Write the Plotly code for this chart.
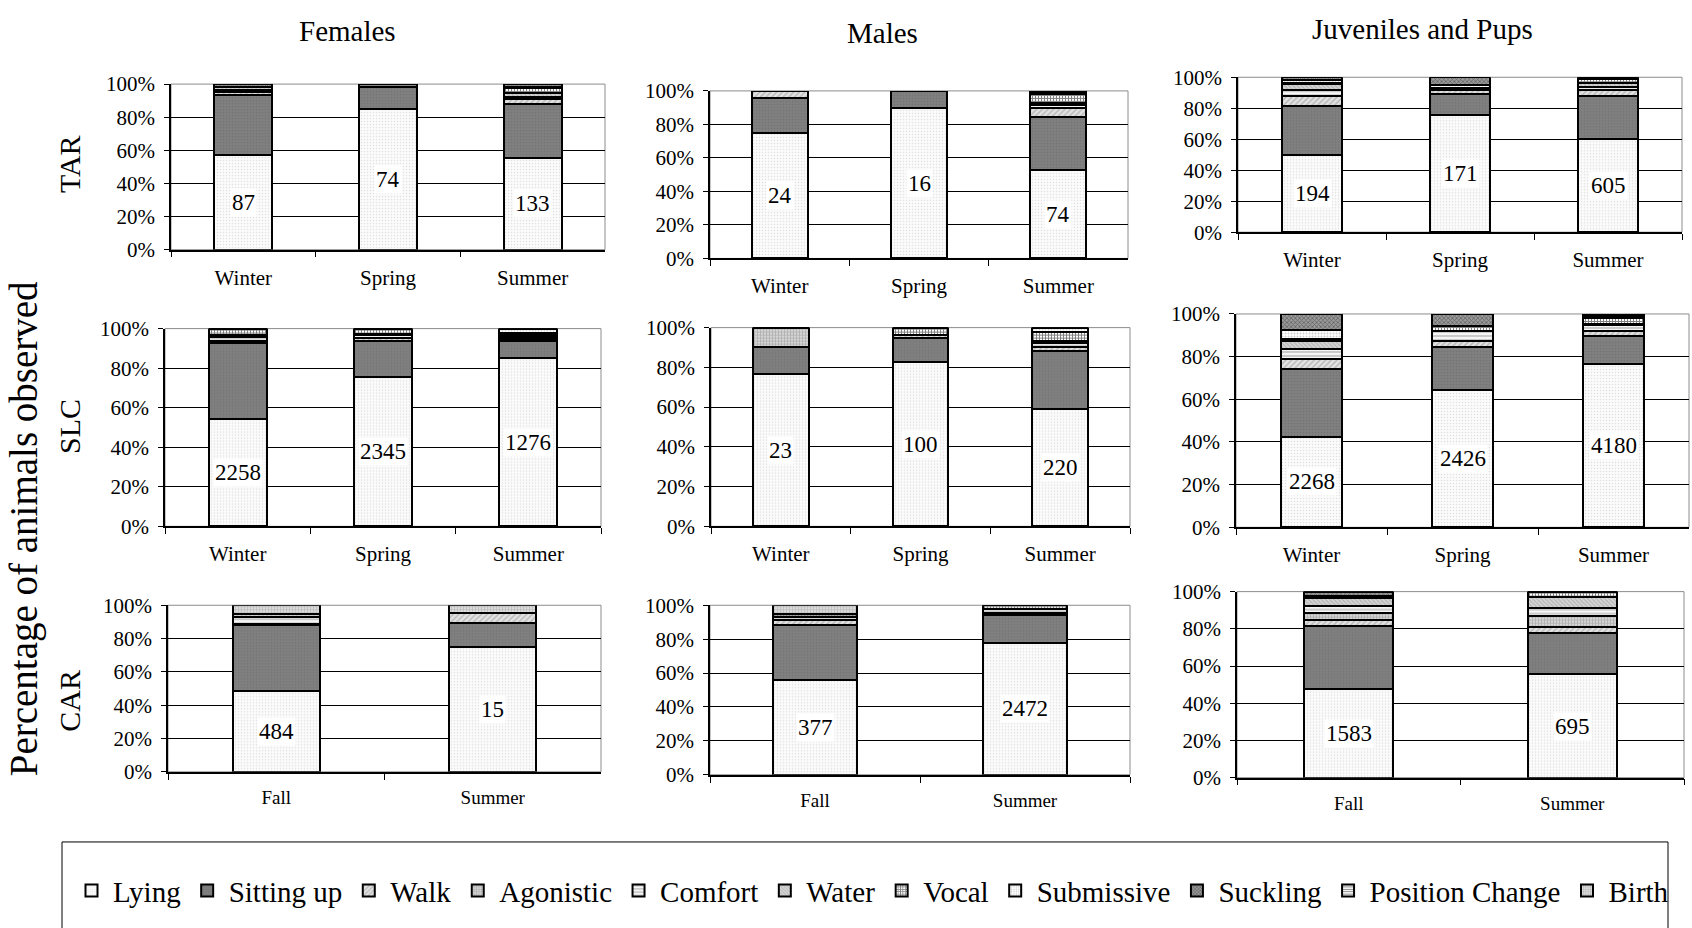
import plotly.graph_objects as go

# ---------------------------------------------------------------- data
behaviours = ["Lying", "Sitting up", "Walk", "Agonistic", "Comfort", "Water",
              "Vocal", "Submissive", "Suckling", "Position Change", "Birth"]

seasons_3 = ["Winter", "Spring", "Summer"]
seasons_2 = ["Fall", "Summer"]

groups = ["Females", "Males", "Juveniles and Pups"]
sites = ["TAR", "SLC", "CAR"]

# percent of animals per behaviour; one row per season, behaviours in the order above
tar_females = [[57, 36.5, 1.5, 0, 1.5, 1.5, 0, 0, 2, 0, 0],
               [85, 13.5, 0, 0, 0, 0, 1.5, 0, 0, 0, 0],
               [55.5, 32.5, 3, 0, 1.5, 2, 3, 1, 1.5, 0, 0]]
tar_males = [[75, 21, 4, 0, 0, 0, 0, 0, 0, 0, 0],
             [89.5, 10.5, 0, 0, 0, 0, 0, 0, 0, 0, 0],
             [52.5, 32, 5.5, 0, 1.5, 1.5, 5, 1, 0, 0, 1]]
tar_juveniles = [[50, 31.5, 6.5, 0, 4, 3.5, 1, 1.5, 2, 0, 0],
                 [75.5, 14, 2.5, 0, 1, 0, 0, 2, 5, 0, 0],
                 [60, 28, 3.5, 0, 2, 3, 2.5, 0, 1, 0, 0]]

slc_females = [[54.5, 38, 1, 0, 2.5, 1, 3, 0, 0, 0, 0],
               [75.5, 18, 1.5, 0, 2, 0.5, 2.5, 0, 0, 0, 0],
               [85, 8.5, 1, 0, 1.5, 1, 1, 2, 0, 0, 0]]
slc_males = [[76.5, 14, 0, 9.5, 0, 0, 0, 0, 0, 0, 0],
             [82.5, 12.5, 1.5, 0, 0, 0, 3.5, 0, 0, 0, 0],
             [59, 29, 2.5, 0, 2, 1, 4.5, 2, 0, 0, 0]]
slc_juveniles = [[42.5, 31.5, 5, 0, 4.5, 4, 1, 4, 7.5, 0, 0],
                 [64.5, 20, 3, 0, 4.5, 0, 2.5, 0, 5.5, 0, 0],
                 [76.5, 13, 2.5, 0, 3, 0.5, 2.5, 1, 1, 0, 0]]

car_females = [[48.5, 39.5, 0.5, 0, 4.5, 1.5, 0.5, 0, 0, 0, 5],
               [75, 14.5, 6, 0, 0, 0, 0, 0, 0, 0, 4.5]]
car_males = [[56, 32.5, 3, 0, 1.5, 0, 2, 0, 0, 0, 5],
             [78, 16.5, 1, 0, 2, 0, 2.5, 0, 0, 0, 0]]
car_juveniles = [[47.5, 34, 3, 4, 3.5, 4.5, 1, 0, 2.5, 0, 0],
                 [55.5, 22.5, 3, 6, 4, 6, 3, 0, 0, 0, 0]]

# number of animals observed per bar
tar_females_n = [87, 74, 133]
tar_males_n = [24, 16, 74]
tar_juveniles_n = [194, 171, 605]
slc_females_n = [2258, 2345, 1276]
slc_males_n = [23, 100, 220]
slc_juveniles_n = [2268, 2426, 4180]
car_females_n = [484, 15]
car_males_n = [377, 2472]
car_juveniles_n = [1583, 695]

y_ticks = [0, 20, 40, 60, 80, 100]

# ---------------------------------------------------------------- layout
W, H = 1692, 928
FONT = "Liberation Serif"

# fill pattern per behaviour: (shape, fg, bg, size, solidity)
styles = {
    "Lying":           (".", "#c4c4c4", "#fbfbfb", 3, 0.2),
    "Sitting up":      (".", "#666666", "#808080", 3, 0.25),
    "Walk":            ("/", "#8a8a8a", "#e2e2e2", 4, 0.35),
    "Agonistic":       ("+", "#7a7a7a", "#d6d6d6", 3, 0.4),
    "Comfort":         ("-", "#7a7a7a", "#f6f6f6", 4, 0.35),
    "Water":           ("\\", "#8e8e8e", "#d4d4d4", 3, 0.35),
    "Vocal":           ("+", "#000000", "#ffffff", 3, 0.55),
    "Submissive":      (".", "#9a9a9a", "#ffffff", 3, 0.3),
    "Suckling":        ("x", "#2a2a2a", "#9a9a9a", 3, 0.45),
    "Position Change": ("-", "#000000", "#ffffff", 3, 0.4),
    "Birth":           ("+", "#8a8a8a", "#dcdcdc", 3, 0.35),
}

# plot-area boxes in pixels: (left, right, top of 100%, bottom at 0%)
boxes = [
    [(171, 605, 74, 244), (710, 1128, 81, 253), (1238, 1682, 67, 226)],
    [(165, 601, 325, 528), (711, 1130, 324, 528), (1236, 1689, 310, 529)],
    [(168, 601, 609, 780), (710, 1130, 609, 783), (1237, 1684, 595, 786)],
]

panels = [
    [(seasons_3, tar_females, tar_females_n), (seasons_3, tar_males, tar_males_n),
     (seasons_3, tar_juveniles, tar_juveniles_n)],
    [(seasons_3, slc_females, slc_females_n), (seasons_3, slc_males, slc_males_n),
     (seasons_3, slc_juveniles, slc_juveniles_n)],
    [(seasons_2, car_females, car_females_n), (seasons_2, car_males, car_males_n),
     (seasons_2, car_juveniles, car_juveniles_n)],
]

fig = go.Figure()
layout = dict(
    width=W, height=H, margin=dict(l=0, r=0, t=0, b=0),
    paper_bgcolor="white", plot_bgcolor="white",
    barmode="stack", bargap=0.6,
    font=dict(family=FONT, color="black"),
    showlegend=True,
    legend=dict(orientation="h", x=70 / W, y=1 - 902 / H, xanchor="left", yanchor="middle",
                font=dict(family=FONT, size=29, color="black"), bgcolor="rgba(0,0,0,0)",
                traceorder="normal", itemclick=False, itemwidth=33),
)
annotations = []
shapes = []

k = 0
for r in range(3):
    for c in range(3):
        k += 1
        cats, bars, counts = panels[r][c]
        x0, x1, yt, yb = boxes[r][c]
        xa = "x" if k == 1 else f"x{k}"
        ya = "y" if k == 1 else f"y{k}"
        for b, name in enumerate(behaviours):
            shape, fg, bg, size, sol = styles[name]
            fig.add_trace(go.Bar(
                x=cats, y=[bar[b] for bar in bars], name=name,
                xaxis=xa, yaxis=ya, legendgroup=name, showlegend=(k == 1),
                marker=dict(color=bg, line=dict(color="black", width=2),
                            pattern=dict(shape=shape, fgcolor=fg, bgcolor=bg,
                                         size=size, solidity=sol)),
                hoverinfo="skip",
            ))
        # sample sizes, centred on the Lying segment
        for cat, bar, n in zip(cats, bars, counts):
            annotations.append(dict(
                x=cat, y=bar[0] / 2, xref=xa, yref=ya, text=str(n), showarrow=False,
                bgcolor="white", borderpad=1,
                font=dict(family=FONT, size=23, color="black")))
        cat_font = 21 if r < 2 else 19
        layout["xaxis" if k == 1 else f"xaxis{k}"] = dict(
            domain=[x0 / W, x1 / W], anchor=ya, type="category",
            showline=True, linecolor="black", linewidth=1.5,
            ticks="outside", tickson="boundaries", ticklen=6, tickcolor="black",
            tickfont=dict(family=FONT, size=cat_font, color="black"),
            ticklabelstandoff=8,
            showgrid=False, zeroline=False, fixedrange=True)
        layout["yaxis" if k == 1 else f"yaxis{k}"] = dict(
            domain=[1 - yb / H, 1 - yt / H], anchor=xa, range=[0, 100],
            tickvals=y_ticks, ticktext=[f"{v}%" for v in y_ticks],
            showline=True, linecolor="black", linewidth=1.5,
            ticks="outside", ticklen=5, tickcolor="black",
            tickfont=dict(family=FONT, size=21, color="black"),
            ticklabelstandoff=5,
            showgrid=True, gridcolor="black", gridwidth=1, zeroline=False, fixedrange=True)
        # grey plot-area frame (top and right edges)
        shapes.append(dict(type="rect", xref=f"{xa} domain", yref=f"{ya} domain",
                           x0=0, x1=1, y0=0, y1=1, line=dict(color="#8c8c8c", width=1),
                           layer="below"))

# column titles
for name, (px, py) in zip(groups, [(347, 20), (883, 22), (1422, 17)]):
    annotations.append(dict(x=px / W, y=1 - py / H, xref="paper", yref="paper", text=name,
                            showarrow=False, xanchor="center", yanchor="middle",
                            font=dict(family=FONT, size=29, color="black")))
# row titles
for name, py in zip(sites, [156, 426, 707]):
    annotations.append(dict(x=70 / W, y=1 - py / H, xref="paper", yref="paper", text=name,
                            showarrow=False, textangle=-90, xanchor="center", yanchor="middle",
                            font=dict(family=FONT, size=30, color="black")))
annotations.append(dict(x=24 / W, y=1 - 531 / H, xref="paper", yref="paper",
                        text="Percentage of animals observed", showarrow=False, textangle=-90,
                        xanchor="center", yanchor="middle",
                        font=dict(family=FONT, size=39, color="black")))

# legend frame
shapes.append(dict(type="rect", xref="paper", yref="paper", x0=62 / W, x1=1668 / W,
                   y0=-0.02, y1=1 - 852 / H, line=dict(color="black", width=1)))

layout["annotations"] = annotations
layout["shapes"] = shapes
fig.update_layout(**layout)
fig.write_html("out.html")
